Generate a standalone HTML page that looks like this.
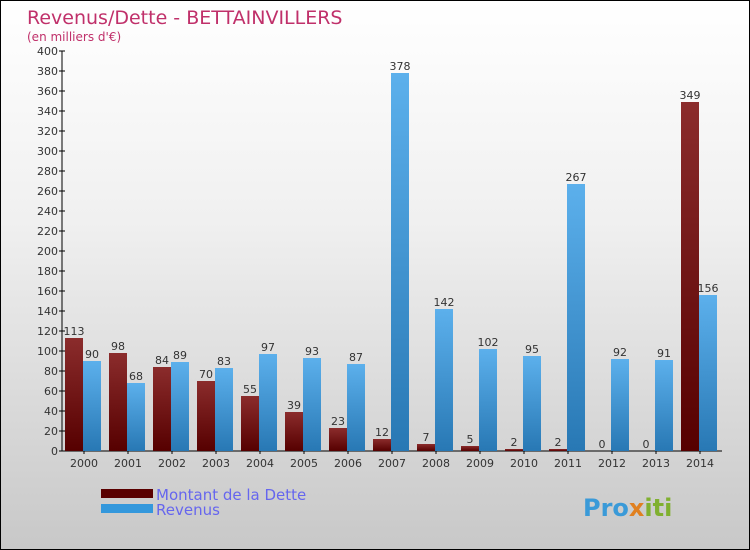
<!DOCTYPE html>
<html><head><meta charset="utf-8">
<style>
body{margin:0}
#c{width:748px;height:548px;border:1px solid #000;background:linear-gradient(#fff,#f0f0f0 40%,#c8c8c8);position:relative;font-family:"DejaVu Sans","Liberation Sans",sans-serif}
</style></head><body>
<div id="c">
<svg width="748" height="548" id="svg" style="position:absolute;left:0;top:0">
<defs>
<linearGradient id="gd" x1="0" y1="0" x2="0" y2="1"><stop offset="0" stop-color="#8b2c2c"/><stop offset="1" stop-color="#560000"/></linearGradient>
<linearGradient id="gr" x1="0" y1="0" x2="0" y2="1"><stop offset="0" stop-color="#5cb0ec"/><stop offset="1" stop-color="#2878b4"/></linearGradient>
</defs>
<text x="26" y="23" font-size="19" fill="#c0306a">Revenus/Dette - BETTAINVILLERS</text>
<text x="26" y="40" font-size="12" fill="#c0306a">(en milliers d'€)</text>
<g id="plot"></g>
<rect x="100" y="488" width="52" height="9" fill="#5a0000"/>
<rect x="100" y="503" width="52" height="9" fill="#3498dc"/>
<text x="155" y="499" font-size="15" fill="#6666ee">Montant de la Dette</text>
<text x="155" y="514" font-size="15" fill="#6666ee">Revenus</text>
<text x="582" y="515" font-size="24" font-weight="bold" fill="#3a9ad8">Pro<tspan fill="#e08020">x</tspan><tspan fill="#80b030">iti</tspan></text>
</svg>
</div>
<script>
const years=["2000","2001","2002","2003","2004","2005","2006","2007","2008","2009","2010","2011","2012","2013","2014"];
const dette=[113,98,84,70,55,39,23,12,7,5,2,2,0,0,349];
const revenus=[90,68,89,83,97,93,87,378,142,102,95,267,92,91,156];
const yTicks=[0,20,40,60,80,100,120,140,160,180,200,220,240,260,280,300,320,340,360,380,400];
const NS="http://www.w3.org/2000/svg";
const g=document.getElementById('plot');
const X0=61,SLOT=44,Y0=450,YMAX=400,H=400;
function y(v){return Y0-v/YMAX*H;}
function mk(t,a){const e=document.createElementNS(NS,t);for(const k in a)e.setAttribute(k,a[k]);g.appendChild(e);return e;}
let ax=mk('line',{x1:X0,y1:y(YMAX),x2:X0,y2:Y0,stroke:'#000'});


let bx=mk('line',{x1:X0,y1:Y0,x2:X0+SLOT*years.length,y2:Y0,stroke:'#000'});


yTicks.forEach(v=>{
 let l=mk('line',{x1:X0-3,x2:X0+3,y1:y(v),y2:y(v),stroke:'#000'});
 
 
 let t=mk('text',{x:X0-4,y:y(v)+4,'font-size':11,'text-anchor':'end',fill:'#333'});
 t.textContent=v;
 
 
});
years.forEach((yr,i)=>{
 const sx=X0+SLOT*i;
 let t=mk('text',{x:sx+22,y:Y0+16,'font-size':11,'text-anchor':'middle',fill:'#333'});
 t.textContent=yr;
 
 
 let tk=mk('line',{x1:sx+22,x2:sx+22,y1:Y0,y2:Y0+3,stroke:'#000'});
 
 
 [[dette[i],'url(#gd)',3,'bar-dette'],[revenus[i],'url(#gr)',21,'bar-revenus']].forEach(([v,f,o,n])=>{
  let r=mk('rect',{x:sx+o,y:y(v),width:18,height:Y0-y(v),fill:f});
  
  
  let lb=mk('text',{x:sx+o+9,y:y(v)-3,'font-size':11,'text-anchor':'middle',fill:'#333'});
  lb.textContent=v;
  
  
 });
});
</script>
</body></html>
